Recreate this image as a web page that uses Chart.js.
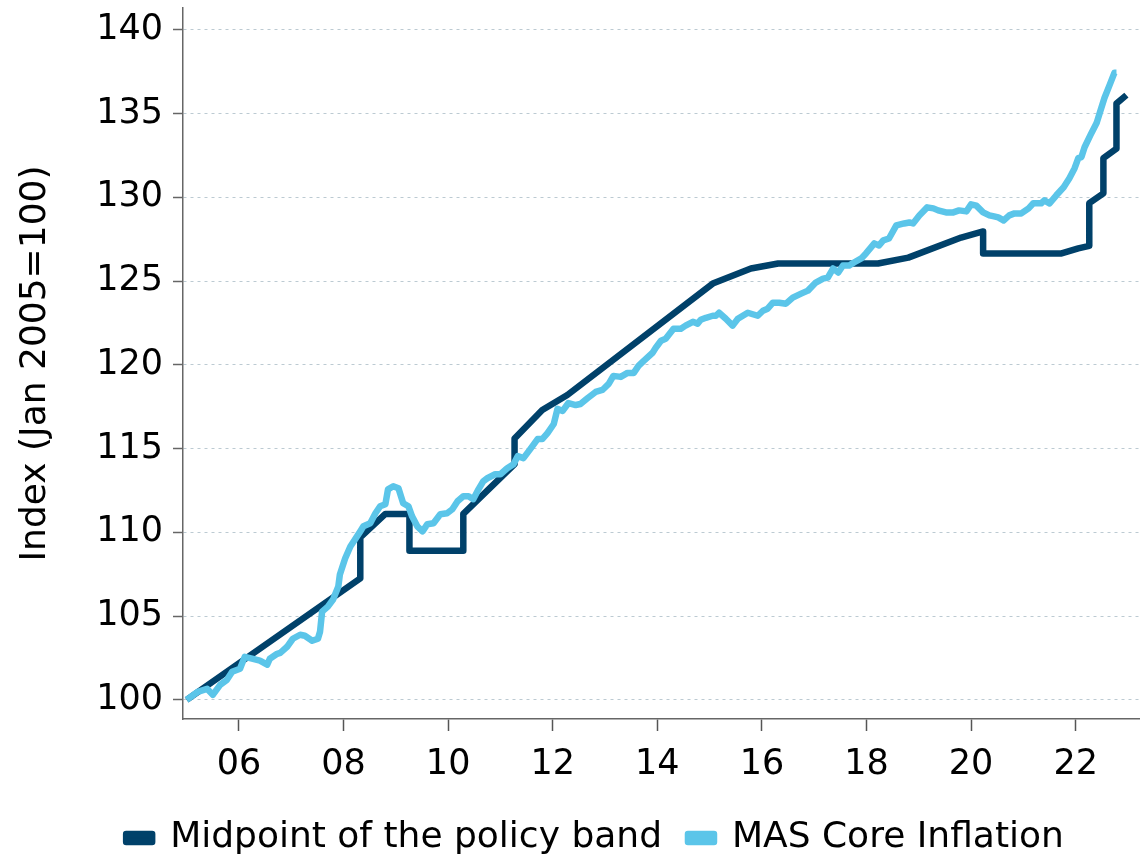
<!DOCTYPE html>
<html>
<head>
<meta charset="utf-8">
<script src="https://cdn.jsdelivr.net/npm/chart.js@4.4.0/dist/chart.umd.min.js"></script>
<style>
  html, body { margin: 0; padding: 0; background: #fff; }
  #wrap { width: 1140px; height: 854px; position: relative; }
</style>
</head>
<body>
<div id="wrap"><canvas id="mainChart"></canvas></div>
<script>
// Midpoint of the policy band (decimal years, index values)
const bandYears = [2005.0, 2008.32, 2008.32, 2008.8, 2009.26, 2009.26, 2010.29, 2010.29, 2011.27, 2011.27,
  2011.8, 2012.28, 2015.06, 2015.79, 2016.31, 2018.22, 2018.8, 2019.81, 2020.23, 2020.23,
  2021.73, 2022.05, 2022.26, 2022.26, 2022.53, 2022.53, 2022.78, 2022.78, 2022.97];
const bandValues = [100.0, 107.25, 109.7, 111.1, 111.1, 108.9, 108.9, 111.1, 114.07, 115.6,
  117.3, 118.2, 124.85, 125.75, 126.05, 126.05, 126.4, 127.6, 127.96, 126.65,
  126.65, 126.95, 127.1, 129.65, 130.24, 132.34, 132.9, 135.6, 136.1];

// MAS Core Inflation index
const coreYears = [2005.0, 2005.21, 2005.39, 2005.5, 2005.64, 2005.77, 2005.87, 2006.02, 2006.11, 2006.25,
  2006.4, 2006.54, 2006.59, 2006.73, 2006.79, 2006.92, 2007.03, 2007.17, 2007.26, 2007.4,
  2007.51, 2007.55, 2007.59, 2007.7, 2007.8, 2007.9, 2007.93, 2008.03, 2008.13, 2008.22,
  2008.32, 2008.38, 2008.51, 2008.61, 2008.7, 2008.8, 2008.85, 2008.95, 2009.05, 2009.14,
  2009.24, 2009.31, 2009.41, 2009.51, 2009.6, 2009.72, 2009.85, 2009.98, 2010.08, 2010.18,
  2010.29, 2010.39, 2010.48, 2010.58, 2010.67, 2010.75, 2010.9, 2011.0, 2011.13, 2011.25,
  2011.33, 2011.44, 2011.57, 2011.71, 2011.8, 2011.9, 2012.02, 2012.09, 2012.19, 2012.3,
  2012.44, 2012.53, 2012.67, 2012.82, 2012.95, 2013.07, 2013.16, 2013.3, 2013.43, 2013.55,
  2013.64, 2013.74, 2013.91, 2013.97, 2014.07, 2014.16, 2014.31, 2014.45, 2014.54, 2014.68,
  2014.77, 2014.83, 2014.93, 2015.06, 2015.12, 2015.18, 2015.31, 2015.44, 2015.54, 2015.73,
  2015.92, 2016.02, 2016.11, 2016.21, 2016.33, 2016.46, 2016.59, 2016.75, 2016.88, 2017.03,
  2017.17, 2017.26, 2017.36, 2017.46, 2017.55, 2017.67, 2017.76, 2017.9, 2017.99, 2018.15,
  2018.24, 2018.32, 2018.43, 2018.57, 2018.72, 2018.82, 2018.89, 2019.01, 2019.16, 2019.28,
  2019.37, 2019.52, 2019.66, 2019.77, 2019.91, 2020.0, 2020.1, 2020.23, 2020.35, 2020.44,
  2020.52, 2020.62, 2020.73, 2020.83, 2020.96, 2021.1, 2021.19, 2021.34, 2021.4, 2021.5,
  2021.63, 2021.77, 2021.88, 2021.98, 2022.05, 2022.11, 2022.17, 2022.3, 2022.4, 2022.46,
  2022.55, 2022.65, 2022.74, 2022.78];
const coreValues = [100.0, 100.48, 100.66, 100.3, 100.9, 101.2, 101.68, 101.86, 102.57, 102.46,
  102.34, 102.1, 102.46, 102.75, 102.81, 103.17, 103.65, 103.89, 103.83, 103.53,
  103.65, 104.07, 105.27, 105.57, 105.99, 106.77, 107.49, 108.44, 109.16, 109.58,
  110.06, 110.36, 110.54, 111.14, 111.56, 111.68, 112.57, 112.75, 112.63, 111.74,
  111.56, 110.96, 110.36, 110.06, 110.48, 110.54, 111.08, 111.14, 111.38, 111.86,
  112.16, 112.16, 111.98, 112.57, 113.05, 113.23, 113.47, 113.47, 113.83, 114.07,
  114.55, 114.43, 114.97, 115.57, 115.57, 115.93, 116.47, 117.37, 117.25, 117.72,
  117.6, 117.66, 118.02, 118.38, 118.5, 118.86, 119.34, 119.28, 119.52, 119.52,
  119.94, 120.24, 120.72, 121.02, 121.44, 121.56, 122.16, 122.16, 122.34, 122.57,
  122.46, 122.69, 122.81, 122.93, 122.93, 123.11, 122.75, 122.34, 122.75, 123.11,
  122.93, 123.23, 123.35, 123.71, 123.71, 123.65, 124.01, 124.25, 124.43, 124.91,
  125.15, 125.21, 125.75, 125.51, 125.93, 125.93, 126.11, 126.35, 126.65, 127.25,
  127.13, 127.43, 127.54, 128.32, 128.44, 128.5, 128.44, 128.92, 129.4, 129.34,
  129.22, 129.1, 129.1, 129.22, 129.16, 129.58, 129.5, 129.1, 128.92, 128.86,
  128.8, 128.62, 128.92, 129.04, 129.04, 129.34, 129.64, 129.64, 129.82, 129.64,
  130.12, 130.6, 131.14, 131.74, 132.34, 132.4, 132.99, 133.83, 134.43, 135.03,
  135.93, 136.71, 137.43, 137.43];

// Axis ticks
const xTickYears = [2006, 2008, 2010, 2012, 2014, 2016, 2018, 2020, 2022];
const yTickValues = [100, 105, 110, 115, 120, 125, 130, 135, 140];

const darkBlue = '#00416a';
const lightBlue = '#5bc5e9';
const fontFamily = '"DejaVu Sans", Verdana, sans-serif';

function toPoints(xs, ys) {
  return xs.map((x, i) => ({ x: x, y: ys[i] }));
}

// nudge the legend row so it sits where the original one does
const legendShift = {
  id: 'legendShift',
  afterLayout(chart) {
    const lg = chart.legend;
    lg.left += 25; lg.right += 25;
    lg.top -= 5; lg.bottom -= 5;
  }
};

const ctx = document.getElementById('mainChart').getContext('2d');
const mainChart = new Chart(ctx, {
  type: 'line',
  data: {
    datasets: [
      {
        label: 'Midpoint of the policy band',
        data: toPoints(bandYears, bandValues),
        borderColor: darkBlue,
        backgroundColor: darkBlue,
        borderWidth: 6.5,
        pointRadius: 0,
        tension: 0,
        borderJoinStyle: 'round',
        order: 2
      },
      {
        label: 'MAS Core Inflation',
        data: toPoints(coreYears, coreValues),
        borderColor: lightBlue,
        backgroundColor: lightBlue,
        borderWidth: 6.5,
        pointRadius: 0,
        tension: 0,
        borderJoinStyle: 'round',
        order: 1
      }
    ]
  },
  plugins: [legendShift],
  options: {
    responsive: true,
    maintainAspectRatio: false,
    animation: false,
    layout: {
      padding: { left: 0, top: 8, right: 0, bottom: -17 }
    },
    plugins: {
      legend: {
        position: 'bottom',
        labels: {
          color: '#000',
          font: { family: fontFamily, size: 36 },
          boxWidth: 26,
          boxHeight: 8,
          padding: 26,
          sort: (a, b) => a.datasetIndex - b.datasetIndex
        }
      },
      tooltip: { enabled: false }
    },
    scales: {
      x: {
        type: 'linear',
        min: 2004.93,
        max: 2023.23,
        afterBuildTicks: function(scale) {
          scale.ticks = xTickYears.map(v => ({ value: v }));
        },
        ticks: {
          color: '#000',
          font: { family: fontFamily, size: 35 },
          padding: 13,
          maxRotation: 0,
          autoSkip: false,
          callback: function(value) {
            return String(value).slice(2);
          }
        },
        grid: {
          drawOnChartArea: false,
          drawTicks: true,
          tickLength: 12,
          tickColor: '#555',
          tickWidth: 1.5
        },
        border: { color: '#666', width: 1.5 }
      },
      y: {
        min: 98.86,
        max: 141.3,
        afterBuildTicks: function(scale) {
          scale.ticks = yTickValues.map(v => ({ value: v }));
        },
        afterFit: function(scale) {
          scale.paddingTop = 0;
          scale.paddingBottom = 0;
        },
        ticks: {
          color: '#000',
          font: { family: fontFamily, size: 35 },
          padding: 10
        },
        grid: {
          color: '#bccad2',
          lineWidth: 1,
          tickLength: 10,
          tickColor: '#666',
          tickWidth: 1.5
        },
        border: { color: '#666', width: 1.5, dash: [3, 4] },
        title: {
          display: true,
          text: 'Index (Jan 2005=100)',
          color: '#000',
          font: { family: fontFamily, size: 36 },
          padding: { top: 14, bottom: 29 }
        }
      }
    }
  }
});
</script>
</body>
</html>
